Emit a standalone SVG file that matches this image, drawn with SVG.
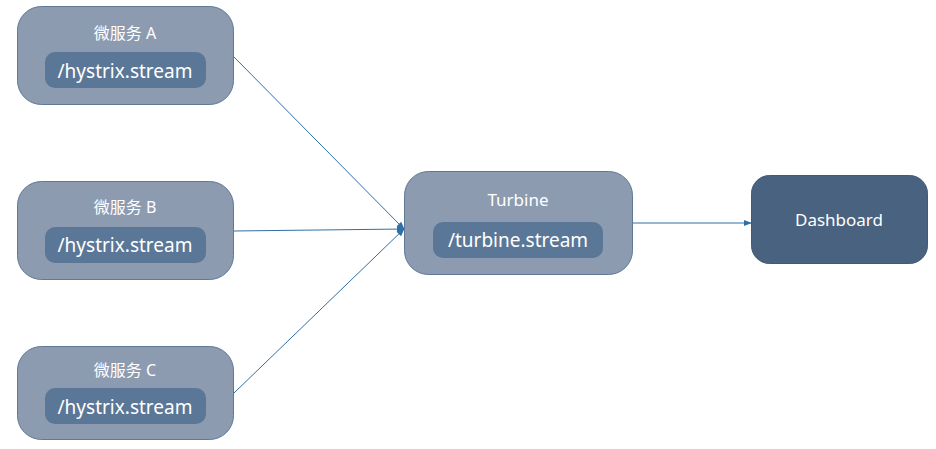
<svg xmlns="http://www.w3.org/2000/svg" width="936" height="449" viewBox="0 0 936 449">
<defs>
<style>
.o{fill:#8C9BB0;stroke:#5E7896;stroke-width:1}
.i{fill:#5B7797}
.t{font-family:"Noto Sans","Noto Sans CJK SC",sans-serif;fill:#fff;text-anchor:middle}
.c{stroke:#2F6FA7;stroke-width:1;fill:none;marker-end:url(#a)}
</style>
<marker id="a" viewBox="0 0 10 10" refX="9" refY="5" markerWidth="8" markerHeight="8" orient="auto" markerUnits="userSpaceOnUse"><path d="M0,1 L10,5 L0,9 z" fill="#2F6FA7"/></marker>
</defs>
<rect width="936" height="449" fill="#fff"/>
<g id="connectors">
<line class="c" x1="234" y1="57" x2="404" y2="229"/>
<line class="c" x1="234" y1="231" x2="404" y2="229"/>
<line class="c" x1="234" y1="393" x2="404" y2="229"/>
<line class="c" x1="632" y1="223" x2="751" y2="223"/>
</g>
<g id="svcA">
<rect class="o" x="17.5" y="6.5" width="216" height="98" rx="24"/>
<text class="t" x="125" y="39" font-size="16">微服务 A</text>
<rect class="i" x="45" y="52" width="161" height="36" rx="10"/>
<text class="t" x="125" y="78" font-size="19">/hystrix.stream</text>
</g>
<g id="svcB">
<rect class="o" x="17.5" y="181.5" width="216" height="98" rx="24"/>
<text class="t" x="125" y="213" font-size="16">微服务 B</text>
<rect class="i" x="45" y="227" width="161" height="36" rx="10"/>
<text class="t" x="125" y="252" font-size="19">/hystrix.stream</text>
</g>
<g id="svcC">
<rect class="o" x="17.5" y="346.5" width="216" height="93" rx="24"/>
<text class="t" x="125" y="376" font-size="16">微服务 C</text>
<rect class="i" x="45" y="388" width="161" height="36" rx="10"/>
<text class="t" x="125" y="414" font-size="19">/hystrix.stream</text>
</g>
<g id="turbine">
<rect class="o" x="404.5" y="171.5" width="228" height="103" rx="24"/>
<text class="t" x="518" y="206" font-size="17">Turbine</text>
<rect class="i" x="433" y="222" width="170" height="36" rx="10"/>
<text class="t" x="518" y="247" font-size="19">/turbine.stream</text>
</g>
<g id="dashboard">
<rect x="751.5" y="175.5" width="176" height="88" rx="18" fill="#48627F" stroke="#41597A"/>
<text class="t" x="839" y="226" font-size="17">Dashboard</text>
</g>
</svg>
